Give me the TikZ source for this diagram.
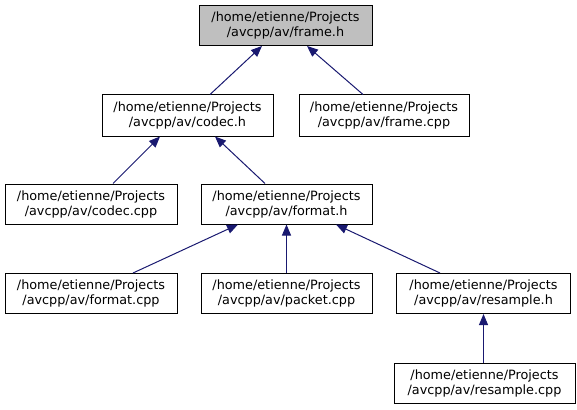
\documentclass[tikz,border=0pt]{standalone}
\usepackage{fontspec}
\setmainfont{DejaVu Sans}
\usetikzlibrary{arrows.meta}
\definecolor{edgeblue}{HTML}{191970}
\definecolor{curgray}{HTML}{BFBFBF}
\begin{document}
\begin{tikzpicture}[x=1pt,y=-1pt,
  filebox/.style={draw=black,line width=1pt,fill=white,inner sep=0pt,align=center,
    font=\fontsize{12.8}{15}\selectfont},
  edge/.style={draw=edgeblue,line width=1pt,{Triangle[length=11pt,width=9pt]}-}]
\useasboundingbox (0,0) rectangle (577,409);
\node[filebox,fill=curgray,minimum width=173pt,minimum height=40pt] (frameh) at (285.5,25.5) {/home/etienne/Projects\\/avcpp/av/frame.h};
\node[filebox,minimum width=171pt,minimum height=41pt] (codech) at (187.5,115.5) {/home/etienne/Projects\\/avcpp/av/codec.h};
\node[filebox,minimum width=170pt,minimum height=41pt] (framecpp) at (384,115.5) {/home/etienne/Projects\\/avcpp/av/frame.cpp};
\node[filebox,minimum width=172pt,minimum height=40pt] (codeccpp) at (91,204) {/home/etienne/Projects\\/avcpp/av/codec.cpp};
\node[filebox,minimum width=171pt,minimum height=40pt] (formath) at (286.5,204) {/home/etienne/Projects\\/avcpp/av/format.h};
\node[filebox,minimum width=172pt,minimum height=40pt] (formatcpp) at (91,293.5) {/home/etienne/Projects\\/avcpp/av/format.cpp};
\node[filebox,minimum width=171pt,minimum height=40pt] (packetcpp) at (286.5,293.5) {/home/etienne/Projects\\/avcpp/av/packet.cpp};
\node[filebox,minimum width=174pt,minimum height=40pt] (resampleh) at (483.5,293.5) {/home/etienne/Projects\\/avcpp/av/resample.h};
\node[filebox,minimum width=181pt,minimum height=40pt] (resamplecpp) at (484.5,383) {/home/etienne/Projects\\/avcpp/av/resample.cpp};
\draw[edge] ([xshift=-23.5pt]frameh.south) -- ([xshift=22.5pt]codech.north);
\draw[edge] ([xshift=21.5pt]frameh.south) -- ([xshift=-21pt]framecpp.north);
\draw[edge] ([xshift=-27.5pt]codech.south) -- ([xshift=22pt]codeccpp.north);
\draw[edge] ([xshift=27.5pt]codech.south) -- ([xshift=-21.5pt]formath.north);
\draw[edge] ([xshift=-48.5pt]formath.south) -- ([xshift=42pt]formatcpp.north);
\draw[edge] (formath.south) -- (packetcpp.north);
\draw[edge] ([xshift=49.5pt]formath.south) -- ([xshift=-43.5pt]resampleh.north);
\draw[edge] (resampleh.south) -- ([xshift=-1pt]resamplecpp.north);
\end{tikzpicture}
\end{document}
